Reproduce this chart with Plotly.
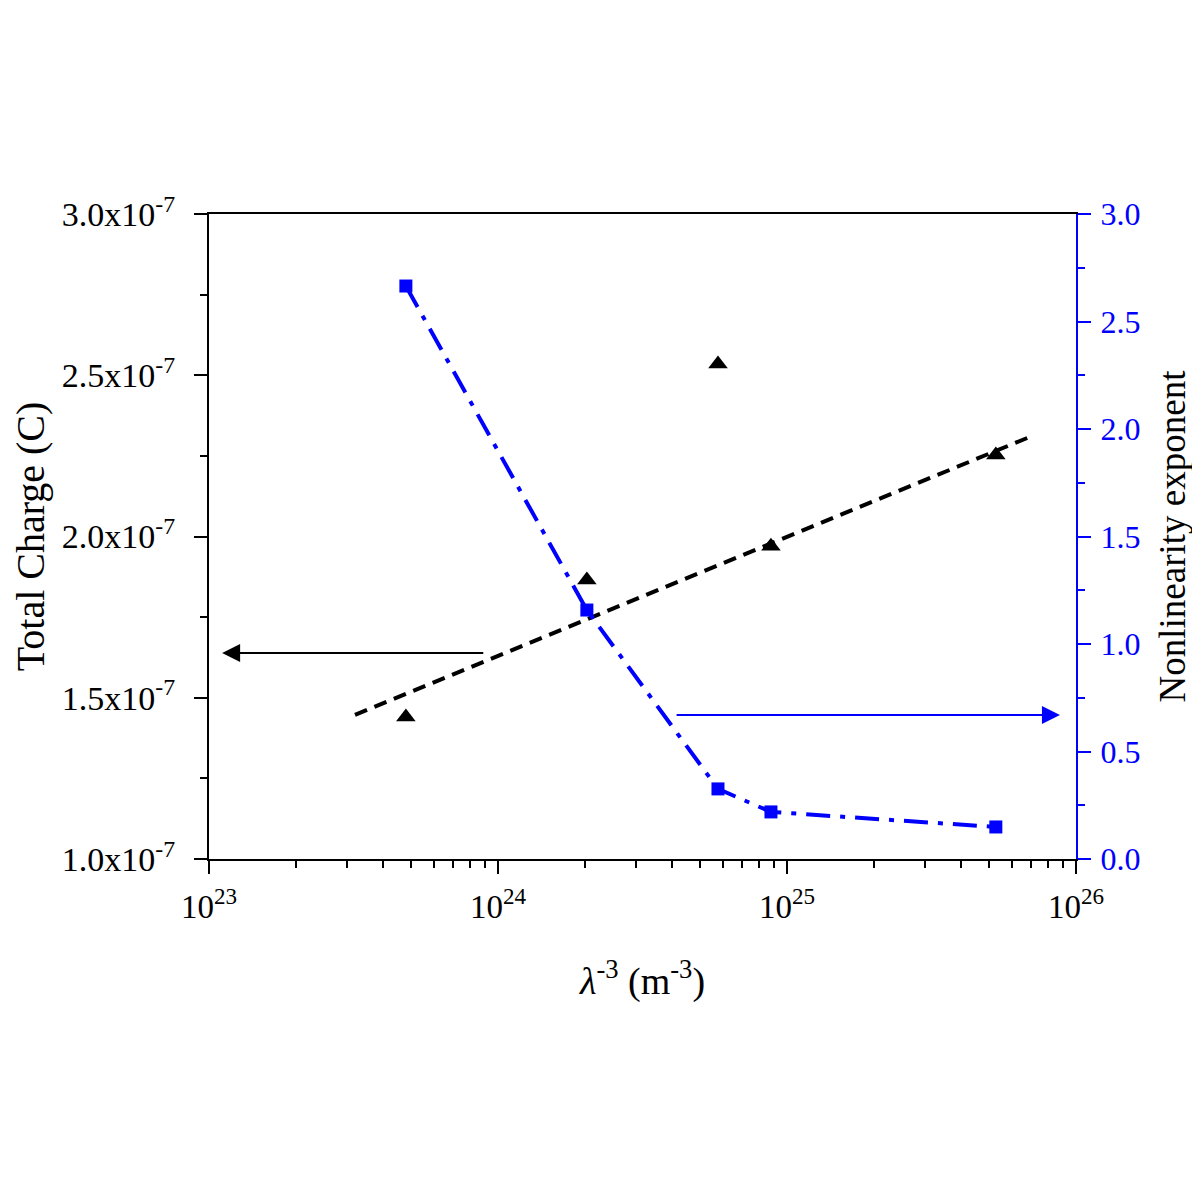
import plotly.graph_objects as go
import numpy as np

# Data
x_vals = [4.8e23, 2.03e24, 5.77e24, 8.8e24, 5.28e25]
total_charge = [1.44e-7, 1.865e-7, 2.535e-7, 1.97e-7, 2.253e-7]
nonlin_exp = [2.665, 1.158, 0.326, 0.219, 0.149]
fit_x = [3.2e23, 6.93e25]
fit_y = [1.447e-7, 2.309e-7]

x_tickvals = [1e23, 1e24, 1e25, 1e26]
x_ticktext = ["10<sup>23</sup>", "10<sup>24</sup>", "10<sup>25</sup>", "10<sup>26</sup>"]
x_minor_vals = [float(m) * 10.0 ** e for e in (23, 24, 25) for m in range(2, 10)]
y_tickvals = [1.0e-7, 1.5e-7, 2.0e-7, 2.5e-7, 3.0e-7]
y_ticktext = ["1.0x10<sup>-7</sup>", "1.5x10<sup>-7</sup>", "2.0x10<sup>-7</sup>",
              "2.5x10<sup>-7</sup>", "3.0x10<sup>-7</sup>"]
y2_tickvals = [0.0, 0.5, 1.0, 1.5, 2.0, 2.5, 3.0]
y2_ticktext = ["0.0", "0.5", "1.0", "1.5", "2.0", "2.5", "3.0"]

# arrow annotations (data coords)
black_arrow = dict(tail_x=9.0e23, head_x=1.11e23, y=1.639e-7)
blue_arrow = dict(tail_x=4.1e24, head_x=8.8e25, y=0.670)

FONT = "Liberation Serif"
BLUE = "#0000FF"

fig = go.Figure()

fig.add_trace(go.Scatter(x=fit_x, y=fit_y, mode="lines",
                         line=dict(color="black", width=4, dash="13px,8px"),
                         showlegend=False))
fig.add_trace(go.Scatter(x=x_vals, y=total_charge, mode="markers",
                         marker=dict(symbol="triangle-up", size=17, color="black"),
                         showlegend=False))
fig.add_trace(go.Scatter(x=x_vals, y=nonlin_exp, mode="lines+markers", yaxis="y2",
                         line=dict(color=BLUE, width=4, dash="24px,10px,5px,10px"),
                         marker=dict(symbol="square", size=13, color=BLUE),
                         showlegend=False))

fig.add_annotation(x=float(np.log10(black_arrow["head_x"])), y=black_arrow["y"],
                   ax=float(np.log10(black_arrow["tail_x"])), ay=black_arrow["y"],
                   xref="x", yref="y", axref="x", ayref="y",
                   showarrow=True, arrowhead=2, arrowsize=1.8, arrowwidth=2,
                   arrowcolor="black", text="")
fig.add_annotation(x=float(np.log10(blue_arrow["head_x"])), y=blue_arrow["y"],
                   ax=float(np.log10(blue_arrow["tail_x"])), ay=blue_arrow["y"],
                   xref="x", yref="y2", axref="x", ayref="y2",
                   showarrow=True, arrowhead=2, arrowsize=1.8, arrowwidth=2,
                   arrowcolor=BLUE, text="")

fig.update_layout(
    width=1200, height=1200,
    paper_bgcolor="white", plot_bgcolor="white",
    margin=dict(l=201, r=132, t=206, b=349, autoexpand=False),
    font=dict(family=FONT, size=32, color="black"),
    xaxis=dict(type="log", range=[23, 26],
               tickvals=x_tickvals, ticktext=x_ticktext,
               ticks="outside", ticklen=13, tickwidth=2, tickcolor="black",
               minor=dict(tickmode="array", tickvals=x_minor_vals,
                          ticks="outside", ticklen=7, tickwidth=2, tickcolor="black",
                          showgrid=False),
               showline=True, linecolor="black", linewidth=2, mirror=True,
               showgrid=False, zeroline=False, automargin=False,
               tickfont=dict(size=33), ticklabelstandoff=4,
               title=dict(text="<i>λ</i><sup>-3</sup> (m<sup>-3</sup>)",
                          font=dict(size=38), standoff=44)),
    yaxis=dict(range=[1.0e-7, 3.0e-7],
               tickvals=y_tickvals, ticktext=y_ticktext,
               ticks="outside", ticklen=13, tickwidth=2, tickcolor="black",
               minor=dict(ticks="outside", ticklen=7, tickwidth=2, tickcolor="black",
                          dtick=0.25e-7, showgrid=False),
               showline=True, linecolor="black", linewidth=2,
               showgrid=False, zeroline=False, automargin=False,
               tickfont=dict(size=34), ticklabelstandoff=12,
               title=dict(text="Total Charge (C)", font=dict(size=40), standoff=12)),
    yaxis2=dict(range=[0, 3.0], overlaying="y", side="right",
                tickvals=y2_tickvals, ticktext=y2_ticktext,
                ticks="outside", ticklen=13, tickwidth=2, tickcolor=BLUE,
                minor=dict(ticks="outside", ticklen=7, tickwidth=2, tickcolor=BLUE,
                           dtick=0.25, showgrid=False),
                showline=True, linecolor=BLUE, linewidth=2,
                showgrid=False, zeroline=False, automargin=False,
                tickfont=dict(size=32, color=BLUE), ticklabelstandoff=3,
                title=dict(text="Nonlinearity exponent", font=dict(size=37, color="black"),
                           standoff=20)),
)

fig.write_html("out.html")
